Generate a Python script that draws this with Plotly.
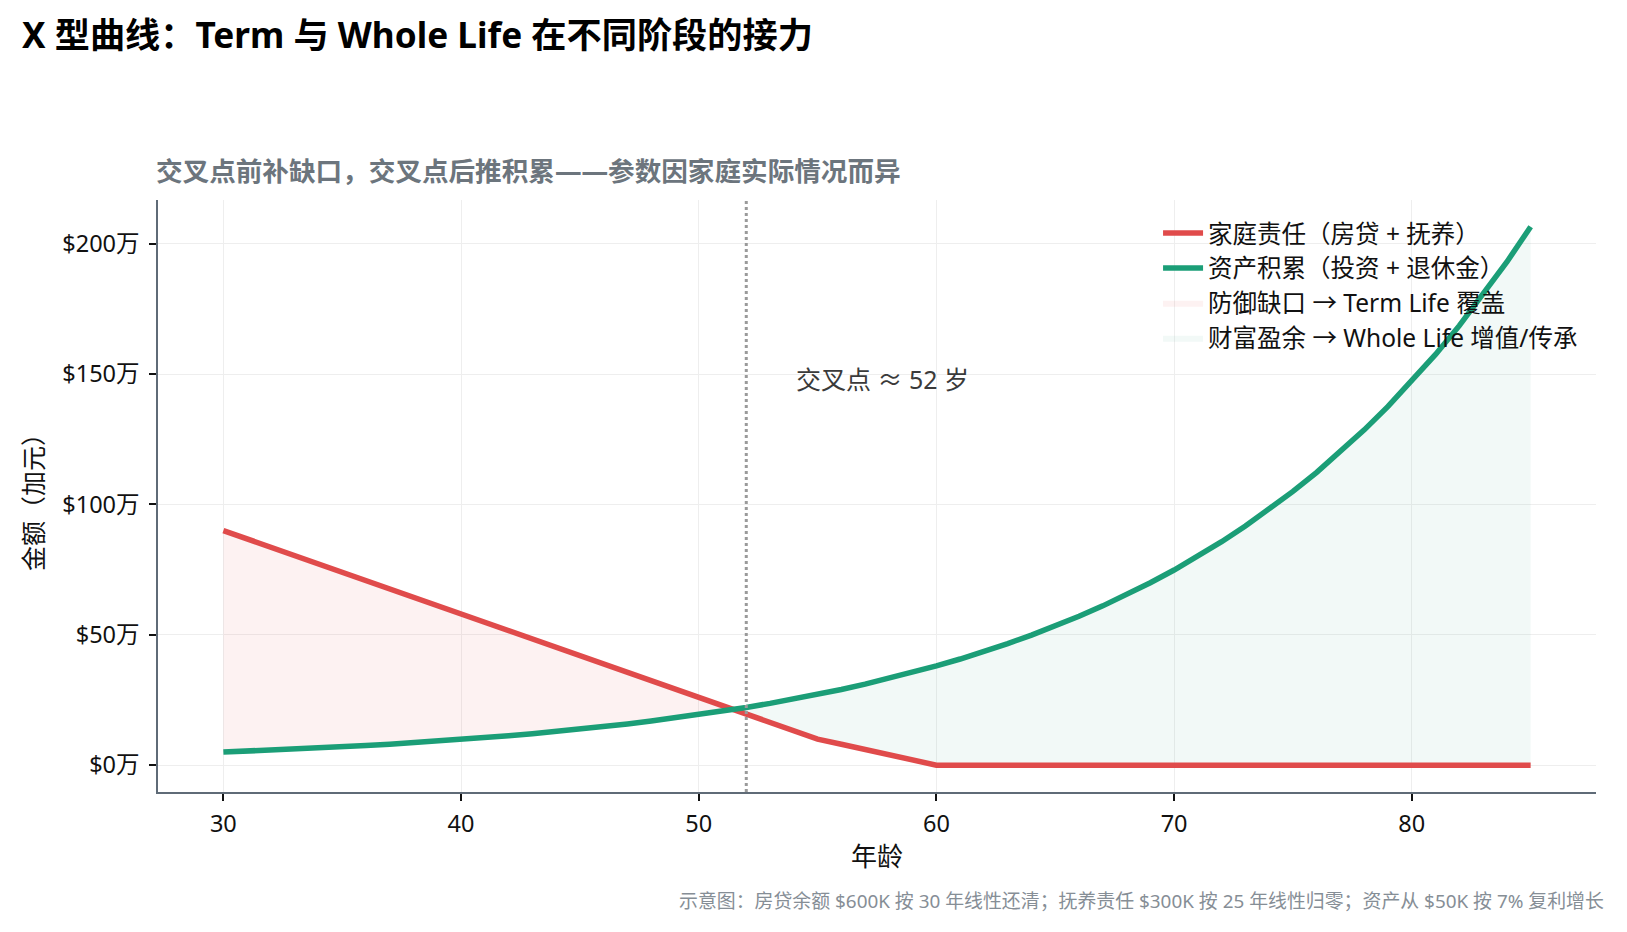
import numpy as np
import plotly.graph_objects as go

# ---- data (万加元) ----
ages = list(range(30, 86))
liability = [90.0, 86.8, 83.6, 80.4, 77.2, 74.0, 70.8, 67.6, 64.4, 61.2,
             58.0, 54.8, 51.6, 48.4, 45.2, 42.0, 38.8, 35.6, 32.4, 29.2,
             26.0, 22.8, 19.6, 16.4, 13.2, 10.0, 8.0, 6.0, 4.0, 2.0,
             0.0] + [0.0] * 25
assets = [5.00, 5.35, 5.72, 6.13, 6.55, 7.01, 7.50, 8.03, 8.59, 9.19,
          9.84, 10.52, 11.26, 12.05, 12.89, 13.80, 14.76, 15.79, 16.90, 18.08,
          19.35, 20.70, 22.15, 23.70, 25.36, 27.14, 29.04, 31.07, 33.24, 35.57,
          38.06, 40.72, 43.57, 46.62, 49.89, 53.38, 57.12, 61.11, 65.39, 69.97,
          74.86, 80.10, 85.71, 91.71, 98.13, 105.00, 112.35, 120.21, 128.63, 137.63,
          147.26, 157.57, 168.60, 180.41, 193.03, 206.54]
cross_age = 52
ytick_vals = [0, 50, 100, 150, 200]
ytick_text = ["$0万", "$50万", "$100万", "$150万", "$200万"]
xtick_vals = [30, 40, 50, 60, 70, 80]

RED = "#E04B4B"
GREEN = "#1B9E77"
FONT = "Noto Sans, Noto Sans CJK SC, sans-serif"

x = np.array(ages, dtype=float)
r = np.array(liability)
g = np.array(assets)
d = r - g
i = int(np.where(np.diff(np.sign(d)) != 0)[0][0])
t = d[i] / (d[i] - d[i + 1])
xc = x[i] + t * (x[i + 1] - x[i])
yc = r[i] + t * (r[i + 1] - r[i])

# gap region (liability > assets)
gx = list(x[: i + 1]) + [xc]
gup = list(r[: i + 1]) + [yc]
glo = list(g[: i + 1]) + [yc]
# surplus region
sx = [xc] + list(x[i + 1:])
sup = [yc] + list(g[i + 1:])
slo = [yc] + list(r[i + 1:])

fig = go.Figure()
fig.add_trace(go.Scatter(x=gx + gx[::-1], y=gup + glo[::-1], mode="lines", fill="toself",
                         fillcolor="rgba(224,75,75,0.07)", line=dict(width=0),
                         name="防御缺口 → Term Life 覆盖", hoverinfo="skip", legendrank=3))
fig.add_trace(go.Scatter(x=sx + sx[::-1], y=sup + slo[::-1], mode="lines", fill="toself",
                         fillcolor="rgba(27,158,119,0.06)", line=dict(width=0),
                         name="财富盈余 → Whole Life 增值/传承", hoverinfo="skip", legendrank=4))
fig.add_trace(go.Scatter(x=ages, y=liability, mode="lines", name="家庭责任（房贷 + 抚养）",
                         line=dict(color=RED, width=5.5), legendrank=1))
fig.add_trace(go.Scatter(x=ages, y=assets, mode="lines", name="资产积累（投资 + 退休金）",
                         line=dict(color=GREEN, width=5.5), legendrank=2))

fig.add_shape(type="line", x0=cross_age, x1=cross_age, y0=0, y1=1, xref="x", yref="paper",
              line=dict(color="#9a9a9a", width=3, dash="dot"))

fig.add_annotation(x=54, y=148, xref="x", yref="y", text="交叉点 ≈ 52 岁", showarrow=False,
                   xanchor="left", yanchor="middle", font=dict(size=25, color="#3a3a3a", family=FONT))

fig.add_annotation(x=-0.003, y=1 + 29 / 592, xref="paper", yref="paper",
                   text="<b>交叉点前补缺口，交叉点后推积累——参数因家庭实际情况而异</b>",
                   showarrow=False, xanchor="left", yanchor="middle",
                   font=dict(size=26.6, color="#6c757d", family=FONT))
fig.add_annotation(x=(1606 - 158) / 1438, y=-(901 - 792) / 592, xref="paper", yref="paper",
                   text="示意图：房贷余额 $600K 按 30 年线性还清；抚养责任 $300K 按 25 年线性归零；资产从 $50K 按 7% 复利增长",
                   showarrow=False, xanchor="right", yanchor="middle",
                   font=dict(size=18.9, color="#868e96", family=FONT))

fig.update_layout(
    width=1627, height=932,
    margin=dict(l=158, r=31, t=200, b=140),
    paper_bgcolor="white", plot_bgcolor="white",
    font=dict(family=FONT, color="#111111"),
    title=dict(text="<b>X 型曲线：Term 与 Whole Life 在不同阶段的接力</b>",
               x=22 / 1627, xanchor="left", xref="container",
               y=1 - 36 / 932, yanchor="middle", yref="container",
               font=dict(size=35.2, color="#000000", family=FONT)),
    legend=dict(x=0.991, y=0.982, xanchor="right", yanchor="top",
                bgcolor="rgba(255,255,255,0)", font=dict(size=24.5, color="#111111"),
                tracegroupgap=0, traceorder="normal", itemwidth=40),
    showlegend=True,
)

fig.update_xaxes(range=[27.25, 87.75], tickvals=xtick_vals, showgrid=True, gridcolor="#eeeeee",
                 gridwidth=1, zeroline=False, showline=True, linecolor="#5f6b77", linewidth=1.5,
                 ticks="outside", ticklen=7, tickcolor="#111111", tickwidth=1.5,
                 ticklabelstandoff=3,
                 tickfont=dict(size=23.5, color="#111111"),
                 title=dict(text="年龄", font=dict(size=26, color="#111111"), standoff=10),
                 mirror=False)
fig.update_yaxes(range=[-10.3, 216.8], tickvals=ytick_vals, ticktext=ytick_text, showgrid=True,
                 gridcolor="#eeeeee", gridwidth=1, zeroline=False, showline=True,
                 linecolor="#5f6b77", linewidth=1.5, ticks="outside", ticklen=7,
                 tickcolor="#111111", tickwidth=1.5, tickfont=dict(size=23.5, color="#111111"),
                 ticklabelstandoff=5,
                 title=dict(text="金额（加元）", font=dict(size=25, color="#111111"), standoff=12),
                 mirror=False)

fig.write_html("out.html")
